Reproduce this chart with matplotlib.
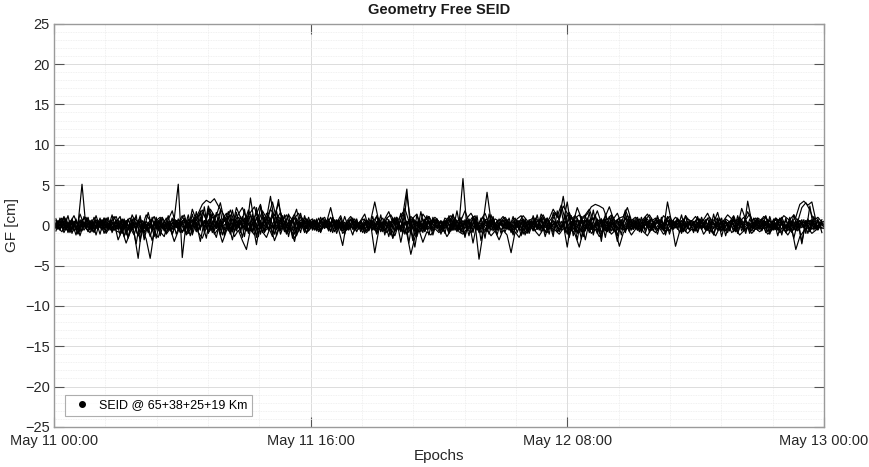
import numpy as np
import pandas as pd
import matplotlib
matplotlib.use("Agg")
import matplotlib.pyplot as plt
import matplotlib.dates as mdates
from matplotlib.lines import Line2D
from matplotlib.ticker import MultipleLocator, FixedLocator

plt.rcParams['font.family'] = ['Liberation Sans', 'DejaVu Sans']

# GF SEID residuals [cm], one value every 15 min from May 11 00:00 to May 13 00:00
start = pd.Timestamp("2023-05-11 00:00")
end = pd.Timestamp("2023-05-13 00:00")
step = pd.Timedelta("15min")

# arcs sampled on the full quarter hours
gf_a = [
    0.3, -0.5, 0.8, -0.2, 0.6, -0.7, 0.1, 5.1, -0.4, 0.5, -0.9, 0.2, 0.7, -0.3, 0.4, -0.6,
    0.2, -0.8, 0.5, 0.9, -0.1, -1.3, 0.6, -0.4, 0.3, 1.1, -0.6, 0.2, -0.9, 0.4, 0.8, 5.1,
    -4.0, 0.5, -0.3, 0.7, 1.2, 1.9, 0.6, -0.5, 0.9, 1.4, -0.2, 0.3, -1.1, 0.6, 1.0, -0.3,
    0.4, 1.2, -0.6, 0.8, -0.2, 1.5, 0.7, -0.4, 1.1, 0.3, -0.8, 0.5, 0.9, -0.5, 0.2, 0.6,
    -0.3, 0.7, -0.6, 0.4, 0.1, 1.0, -0.2, 0.5, -0.7, 0.3, 0.8, -0.4, 0.2, -0.5, 0.6, 0.1,
    -0.6, 0.4, 0.9, -0.3, 0.5, -0.8, 0.2, 1.3, 4.5, -0.9, 0.6, -0.2, 0.8, -0.5, 0.3, 0.7,
    -0.4, 0.2, 0.6, -0.7, 0.9, 0.1, 5.8, -0.6, 0.4, 1.2, -0.3, 0.5, 0.8, -0.6, 0.3, -0.2,
    0.7, -0.5, 0.4, 0.9, -0.3, 0.6, -0.8, 0.2, 0.5, -0.4, 1.0, -0.6, 0.3, 1.4, 0.8, 3.6,
    0.4, -0.7, 0.9, 1.3, 0.2, -0.5, 0.6, 1.1, -0.3, 0.4, -0.8, 0.7, 0.1, -0.6, 0.5, 1.2,
    -0.2, 0.6, -0.5, 0.3, 0.8, -0.4, 0.2, 0.7, -0.6, 1.1, 0.4, -0.3, 0.6, -0.7, 0.2, 0.5,
    -0.4, 0.8, 0.3, -0.6, 0.5, -0.2, 0.9, -0.5, 0.3, 0.6, -0.8, 0.4, 1.0, 0.2, -0.3, 0.7,
    -0.5, 0.3, 0.6, -0.4, 0.9, -0.2, 0.5, -0.7, 0.4, 0.1, 0.6, -0.3, 0.8, -0.5, 0.2, 0.4,
    -0.2,
]
gf_b = [
    -0.4, 0.6, -0.2, 0.9, -0.7, 0.3, -1.0, 0.5, 0.1, -0.6, 1.0, -0.3, 0.4, -0.8, 0.6, 0.2,
    -0.5, 0.8, -1.2, 0.3, -0.9, -4.1, 0.2, -0.6, 0.7, -1.4, 0.4, -0.2, 0.9, -0.7, 0.3, -0.5,
    0.6, -1.0, 0.4, 0.9, -0.6, 1.6, 0.8, 2.0, 1.2, -0.4, 0.7, 1.5, -0.8, 0.5, -0.3, 1.1,
    -0.7, 3.4, 0.2, 1.3, -0.9, 0.8, 3.6, 0.4, -0.5, 1.0, -0.2, 0.6, -1.1, 0.3, 0.9, -0.4,
    0.5, -0.6, 0.2, 0.8, -0.3, 0.4, -0.8, 0.6, 0.1, -0.5, 0.7, -0.2, 0.3, -0.9, 0.5, 0.2,
    -0.3, 0.6, -0.5, 0.9, 0.2, -0.7, 0.4, -1.0, 3.8, 0.3, -0.6, 0.8, -0.4, 0.5, -0.2, 0.7,
    0.3, -0.8, 0.5, -0.3, 0.9, -0.6, 0.2, 0.7, -0.4, 0.6, -0.9, 0.3, 4.1, 0.5, -0.5, 0.8,
    -0.3, 0.4, -0.7, 0.2, 0.6, -1.1, 0.5, -0.4, 0.8, -0.6, 0.3, 0.9, -0.2, 0.5, -0.8, 0.4,
    2.9, -0.4, 0.6, -0.9, 0.3, 0.8, -0.5, 0.2, 0.7, -0.3, 0.5, -0.7, 0.4, 0.9, -0.6, 0.2,
    0.5, -0.4, 0.8, -0.2, 0.3, -0.6, 0.7, 0.1, -0.5, 2.9, 0.4, -0.3, 0.6, -0.8, 0.5, 0.2,
    -0.6, 0.3, 0.7, -0.4, 0.5, -0.2, 0.8, -0.5, 0.3, 0.6, -0.3, 0.9, -0.7, 3.0, 0.4, -0.5,
    0.6, -0.2, 0.4, -0.6, 0.3, 0.8, -0.4, 0.2, 0.5, -0.7, 0.6, -0.3, 0.4, 0.7, -0.5, 0.3,
    0.1,
]
gf_c = [
    0.5, -0.3, -0.8, 0.4, -0.6, 0.2, -1.1, 0.7, -0.4, -0.9, 0.3, -0.5, 0.6, -1.0, -0.2, 0.4,
    -1.8, -0.6, -2.2, -0.9, 0.3, -1.3, -0.5, -1.7, -4.1, -0.8, -1.5, 0.2, -1.1, -0.4, -2.0, -0.7,
    0.3, -1.2, -0.5, 0.4, -0.9, -1.6, -0.3, 0.6, -1.1, -0.4, -2.1, -0.7, 0.2, -1.4, -0.6, -1.9,
    -3.0, -0.5, -1.2, 0.3, -0.8, -1.5, -0.2, -1.9, -0.6, 0.4, -1.1, -0.3, -1.6, -0.7, 0.2, -0.9,
    -0.4, 0.3, -0.8, -0.2, 0.5, -0.6, -0.3, 0.4, -1.0, -0.5, 0.2, -0.7, 0.3, -0.4, -0.9, 0.1,
    -3.4, -0.6, 0.3, -0.9, -0.4, -1.3, 0.2, -0.7, -1.0, -3.6, -1.5, -0.5, -2.1, -0.8, -1.2, -0.4,
    -0.9, -0.3, -1.4, -0.6, 0.2, -0.8, -1.1, -0.4, -0.9, 0.3, -4.2, -1.0, -0.5, -1.3, -0.7, -1.8,
    -0.6, -1.2, -3.4, -0.8, -1.5, -0.4, -1.0, 0.2, -0.7, -1.3, -0.5, -0.9, 0.3, -0.6, -1.1, -0.4,
    -0.8, -0.3, -1.2, -2.7, -0.6, 0.2, -1.0, -0.5, -1.4, -0.7, -0.2, -1.1, -0.6, -2.6, -0.9, -0.3,
    -1.2, -0.5, 0.2, -0.8, -1.3, -0.4, -0.9, -0.3, -1.1, -0.6, 0.3, -2.6, -0.8, -0.4, -1.0, -0.5,
    -0.7, 0.2, -1.1, -0.4, -0.8, -1.3, -0.3, -0.6, 0.3, -0.9, -0.5, -1.2, -0.7, -0.2, -1.0, -0.4,
    -0.8, -0.3, -1.1, -0.6, 0.2, -0.9, -0.5, -1.2, -0.4, -3.0, -1.4, -0.7, -0.3, -1.0, -0.6, -0.2,
    -0.4,
]
gf_d = [
    -0.2, 0.4, 0.9, -0.5, 0.3, 1.2, -0.1, 0.6, 1.0, -0.4, 0.5, 0.2, -0.6, 0.8, 0.3, 1.1,
    -0.3, 0.7, 0.2, -0.5, 0.9, 0.4, -0.2, 1.3, 0.6, -0.7, 0.5, 1.0, 0.1, -0.4, 0.8, 0.3,
    1.2, -0.3, 0.7, 0.4, 1.5, 2.6, 3.1, 2.8, 3.3, 2.4, 1.6, 0.7, 1.9, 0.3, 1.4, 2.2,
    0.8, 1.6, 2.3, 0.5, 1.8, 0.9, 2.0, 1.2, 2.7, 0.6, 1.3, -0.2, 0.9, 1.5, 0.4, 0.8,
    0.2, 0.6, -0.3, 0.9, 0.4, 2.2, 0.1, 0.7, -0.4, 0.5, 1.1, 0.3, -0.2, 0.8, 0.4, 0.6,
    2.9, 0.5, -0.2, 0.9, 1.3, 0.4, 0.8, 1.6, 0.2, 1.1, 0.6, -0.3, 1.4, 0.7, 0.3, 1.0,
    0.5, -0.1, 0.8, 1.2, 0.3, 0.7, -0.4, 0.9, 1.5, 0.6, 0.2, 1.0, 0.4, -0.2, 0.8, 0.5,
    1.1, 0.3, -0.3, 0.7, 0.4, 1.2, 0.6, -0.2, 0.9, 0.5, 1.3, 0.2, 0.8, 1.6, 0.7, 2.4,
    1.5, 0.8, 1.2, 0.4, 0.9, 1.4, 2.3, 2.6, 2.4, 2.1, 0.7, 1.3, 0.5, 0.9, 1.1, 2.2,
    0.6, 1.0, 0.3, 0.8, 1.4, 0.5, 0.9, 0.2, 1.2, 0.7, 0.4, 1.0, 0.6, -0.1, 0.8, 0.5,
    1.1, 0.3, 0.7, 1.5, 0.4, 0.9, 0.2, 0.6, 1.3, 0.8, 0.5, 1.0, 0.3, 1.7, 0.6, 0.9,
    0.4, 1.1, 0.7, 0.3, 0.9, 0.5, 1.2, 0.8, 0.4, 1.0, 2.6, 3.0, 2.5, 2.9, 0.6, 0.3,
    0.5,
]
gf_e = [
    0.1, -0.3, 0.5, -0.6, 0.2, 0.4, -0.5, 0.3, -0.2, 0.6, -0.4, 0.1, 0.5, -0.3, 0.2, -0.6,
    0.4, -0.2, 0.6, -0.5, 0.3, 0.1, -0.7, 0.5, -0.3, 0.2, 0.6, -0.4, 0.3, -0.1, 0.5, -0.5,
    0.2, 0.6, -0.3, 0.4, -0.6, 0.1, 0.5, -0.2, 0.7, -0.4, 0.3, 0.8, -0.5, 0.2, 0.6, -0.3,
    0.4, -0.2, 0.7, -0.5, 0.3, 0.9, -0.4, 0.6, 3.2, -0.3, 0.5, -0.6, -2.0, 0.4, -0.2, 0.6,
    -0.3, 0.5, 0.2, -0.4, 0.6, -0.2, 0.3, -0.5, -2.5, 0.4, -0.3, 0.5, 0.1, -0.4, 0.6, -0.2,
    0.3, -0.5, 0.4, 0.2, -0.3, 0.6, -0.4, 0.1, 0.5, -0.2, -2.7, 0.4, -0.5, 0.3, 0.6, -0.3,
    0.2, -0.4, 0.5, -0.1, 0.3, -0.5, 0.6, -0.3, 0.2, 0.4, -0.6, 0.3, -0.2, 0.5, -0.4, 0.1,
    0.6, -0.3, 0.2, -0.5, 0.4, 0.1, -0.6, 0.5, -0.2, 0.3, -0.4, 0.6, -0.1, 0.4, -0.5, 0.2,
    -2.7, 0.5, -0.3, 0.2, 0.6, -0.4, 0.3, -0.2, 0.5, -0.5, 0.1, 0.4, -0.3, 0.6, -0.2, 0.3,
    -0.5, 0.4, 0.2, -0.3, 0.5, -0.6, 0.1, 0.4, -0.2, 0.6, -0.4, 0.3, 0.2, -0.5, 0.4, -0.1,
    0.5, -0.3, 0.2, -0.6, 0.4, 0.1, -0.4, 0.6, -0.2, 0.3, -0.5, 0.5, -0.1, 0.4, -0.3, 0.2,
    -0.4, 0.6, -0.2, 0.3, -0.5, 0.4, 0.1, -0.3, 0.5, -0.6, 0.2, 0.4, -0.2, 0.5, -0.3, 0.1,
    0.3,
]
gf_f = [
    -0.6, 0.2, -0.1, 0.7, -0.9, 0.5, 0.3, -0.7, 0.8, -0.2, -0.8, 0.6, -0.4, 0.9, -0.6, 0.1,
    0.7, -1.0, 0.4, -0.3, -1.2, 0.6, -0.8, 0.2, -1.4, 0.5, -0.6, 0.9, -1.0, 0.3, -0.5, 0.8,
    -0.9, 0.4, -1.3, 1.0, -0.5, 0.3, -1.6, 1.4, -0.7, 0.9, -1.2, 0.5, 1.3, -0.8, 0.6, -1.5,
    1.1, -0.6, 0.8, -1.4, 1.6, -0.3, 0.9, -1.1, 0.4, 1.2, -0.9, 0.5, 1.4, -0.6, 0.7, -1.0,
    0.6, -0.5, 0.9, -0.2, 0.4, -0.8, 0.7, -0.3, 0.5, -0.6, 0.2, 0.8, -0.5, 0.3, -0.7, 0.6,
    -0.4, 0.9, -0.8, 0.5, -1.2, 1.0, -0.6, 0.4, -1.1, 0.8, -1.3, 0.6, -0.9, 1.2, -0.5, 0.3,
    -0.7, 0.5, -0.2, 0.8, -0.6, 0.3, -0.9, 0.6, -0.4, 0.9, -0.5, 0.2, -0.8, 1.3, -0.7, 0.4,
    -0.3, 0.7, -0.9, 0.4, -0.5, 0.8, -0.2, 0.6, -0.7, 0.3, -0.6, 0.9, -0.4, 0.5, -0.8, 0.6,
    -1.1, 1.2, -0.8, 0.6, -1.4, 0.9, -0.5, 1.3, -1.0, 0.7, -0.6, 1.1, -0.9, 0.4, -0.3, 0.8,
    -0.6, 0.4, -0.8, 0.7, -0.3, 0.9, -0.5, 0.3, -0.7, 0.6, -0.2, 0.5, -0.9, 0.8, -0.4, 0.6,
    -0.5, 0.7, -0.3, 0.9, -0.8, 0.4, -0.6, 0.3, -0.9, 0.6, -0.4, 0.8, -0.5, 0.2, -0.7, 0.5,
    -0.3, 0.6, -0.8, 0.4, -0.5, 0.9, -0.6, 0.3, -0.9, 0.5, -0.4, 0.7, -1.0, 0.6, -0.3, 0.4,
    -0.2,
]

# arcs sampled at quarter past + 7.5 min
gf_g = [
    0.8, -0.6, 1.1, -0.9, 0.4, -1.2, 0.7, -0.3, 1.0, -0.8, 0.5, -1.1, 0.9, -0.4, 1.3, -0.7,
    -0.9, 0.6, -1.5, 0.8, -0.5, 1.2, -1.8, 0.4, -0.7, 1.0, -1.3, 0.6, -0.4, 0.9, -1.1, 0.3,
    0.7, -1.0, 1.4, -0.6, 1.8, -0.9, 2.1, -0.5, 1.6, -1.2, 0.8, -0.7, 1.9, -0.4, 1.1, -1.4,
    1.5, -0.8, 2.2, -1.1, 1.0, -0.6, 1.7, -1.3, 0.9, -0.5, 1.4, -1.6, 0.7, -0.9, 1.2, -0.4,
    0.6, -0.7, 1.0, -0.3, 0.8, -0.9, 0.5, -0.6, 1.1, -0.4, 0.7, -0.8, 0.4, -1.0, 0.9, -0.5,
    1.2, -0.8, 0.6, -1.4, 0.9, -0.5, 1.5, -1.1, 0.7, -1.9, 1.3, -0.6, 0.8, -1.2, 1.0, -0.4,
    0.5, -1.0, 1.2, -0.6, 1.8, -0.9, 0.7, -1.3, 1.1, -0.5, 0.9, -1.6, 1.4, -0.7, 0.6, -1.0,
    0.8, -0.5, 1.1, -0.9, 0.4, -1.2, 0.7, -0.6, 1.3, -0.8, 0.5, -1.1, 1.6, -0.4, 2.0, -0.9,
    1.4, -1.3, 0.9, -1.7, 1.2, -0.6, 1.9, -1.0, 0.8, -1.5, 1.1, -0.7, 0.6, -1.2, 1.5, -0.8,
    0.7, -0.6, 1.0, -0.9, 0.5, -0.7, 1.2, -0.4, 0.8, -1.1, 0.6, -0.5, 1.3, -0.8, 0.4, -0.9,
    1.1, -0.5, 0.7, -1.0, 1.4, -0.6, 0.9, -1.3, 0.5, -0.8, 1.2, -0.7, 0.6, -1.0, 0.9, -0.4,
    0.8, -0.9, 1.1, -0.5, 0.6, -1.2, 0.9, -0.7, 1.3, -0.4, 0.7, -1.0, 2.4, -0.6, 0.8, -0.9,
]
gf_h = [
    -0.7, 0.9, -0.4, 1.2, -1.0, 0.5, -0.8, 1.1, -0.3, 0.7, -1.2, 0.6, -0.5, 1.0, -0.9, 0.4,
    1.1, -1.4, 0.7, -0.6, 1.3, -2.0, 0.5, -0.9, 1.0, -1.6, 0.8, -0.4, 1.2, -1.1, 0.6, -0.8,
    -0.5, 1.3, -0.9, 1.7, -0.6, 2.3, -1.0, 1.5, -0.4, 1.9, -1.3, 1.1, -0.7, 1.6, -0.9, 2.0,
    -0.8, 1.4, -1.5, 2.5, -0.7, 1.2, -1.1, 1.8, -0.6, 1.3, -1.4, 0.9, -0.8, 1.5, -0.5, 1.0,
    -0.6, 0.8, -0.9, 0.5, -0.7, 1.0, -0.4, 0.9, -1.1, 0.6, -0.5, 0.8, -0.8, 0.4, -0.6, 1.1,
    -0.9, 1.3, -1.2, 0.7, -1.6, 1.0, -0.6, 1.4, -2.2, 0.9, -1.0, 1.7, -0.7, 1.1, -0.5, 0.8,
    -1.1, 0.6, -0.8, 1.4, -0.6, 1.0, -1.5, 0.8, -0.9, 1.2, -1.9, 0.7, -0.5, 1.1, -1.2, 0.6,
    -0.4, 0.9, -1.0, 0.6, -1.3, 0.8, -0.7, 1.2, -0.5, 1.0, -0.9, 0.5, -1.4, 1.8, -0.6, 1.3,
    -1.5, 0.9, -1.8, 1.1, -0.7, 1.6, -1.2, 0.8, -2.0, 1.4, -0.6, 1.0, -1.3, 0.7, -0.9, 1.2,
    -0.5, 0.8, -0.7, 1.1, -0.9, 0.5, -0.6, 1.0, -1.2, 0.7, -0.4, 0.9, -0.8, 1.2, -0.6, 0.5,
    -0.8, 1.0, -0.5, 0.7, -1.1, 0.9, -1.4, 0.6, -0.7, 1.1, -0.9, 0.5, -1.0, 0.8, -0.4, 0.9,
    -0.6, 1.2, -0.8, 0.7, -1.3, 0.5, -0.9, 1.0, -0.5, 0.8, -2.1, 0.6, -0.7, 1.1, -0.5, 0.7,
]
gf_i = [
    0.4, -0.5, 0.2, -0.7, 0.6, -0.3, 0.5, -0.6, 0.3, -0.4, 0.7, -0.2, 0.5, -0.6, 0.3, -0.5,
    0.6, -0.3, 0.8, -0.5, 0.2, -0.8, 0.4, -0.6, 0.7, -0.3, 0.5, -0.7, 0.3, -0.5, 0.6, -0.4,
    0.9, -0.5, 0.6, -0.8, 1.0, -0.4, 0.7, -0.9, 0.5, -0.6, 1.1, -0.3, 0.8, -0.7, 0.6, -0.5,
    0.7, -0.9, 1.0, -0.4, 0.8, -0.6, 1.2, -0.5, 0.6, -0.8, 0.4, -0.6, 0.9, -0.3, 0.5, -0.7,
    0.3, -0.5, 0.6, -0.4, 0.5, -0.3, 0.7, -0.5, 0.4, -0.6, 0.3, -0.4, 0.6, -0.5, 0.2, -0.6,
    0.5, -0.7, 0.4, -0.6, 0.8, -0.5, 0.6, -0.9, 0.7, -0.4, 0.5, -0.8, 0.6, -0.5, 0.7, -0.3,
    0.6, -0.4, 0.8, -0.6, 0.5, -0.7, 0.4, -0.5, 0.9, -0.6, 0.3, -0.7, 0.6, -0.4, 0.5, -0.6,
    0.4, -0.6, 0.5, -0.3, 0.7, -0.5, 0.4, -0.7, 0.6, -0.4, 0.8, -0.5, 0.6, -0.8, 0.5, -0.6,
    0.9, -0.5, 0.7, -0.8, 0.6, -0.9, 0.5, -0.6, 0.8, -0.7, 0.4, -0.6, 0.7, -0.5, 0.9, -0.4,
    0.5, -0.6, 0.4, -0.5, 0.7, -0.3, 0.6, -0.5, 0.4, -0.7, 0.5, -0.4, 0.6, -0.3, 0.5, -0.6,
    0.4, -0.5, 0.6, -0.4, 0.3, -0.6, 0.5, -0.7, 0.4, -0.5, 0.6, -0.3, 0.7, -0.5, 0.4, -0.6,
    0.5, -0.4, 0.7, -0.6, 0.3, -0.5, 0.6, -0.4, 0.5, -0.7, 0.4, -0.5, 0.6, -0.3, 0.5, -0.4,
]
gf_j = [
    -0.3, 0.6, -0.9, 0.2, -0.6, 0.8, -1.3, 0.4, -0.8, 0.5, -0.4, 0.9, -1.0, 0.3, -0.7, 0.6,
    -1.2, 0.5, -1.6, 0.3, -2.3, 0.7, -1.0, -0.2, -1.9, 0.4, -0.8, -1.4, 0.5, -1.1, 0.2, -0.9,
    -0.6, 0.8, -1.2, 0.4, -2.0, 0.6, -0.9, -0.3, -1.5, 0.7, -1.1, 0.3, -1.8, 0.5, -0.7, 0.9,
    -1.0, 0.4, -2.4, 0.6, -0.8, -0.2, -1.4, 0.9, -1.1, 0.3, -0.6, 0.7, -1.3, 0.4, -0.9, 0.5,
    -0.4, 0.6, -0.8, 0.3, -0.5, 0.7, -1.0, 0.4, -0.6, 0.2, -1.2, 0.5, -0.4, 0.8, -0.7, 0.3,
    -1.1, 0.5, -0.7, 0.3, -1.6, 0.6, -2.1, 0.4, -0.9, 0.8, -1.4, 0.2, -0.8, 0.5, -1.2, 0.6,
    -0.6, 0.3, -1.0, 0.7, -0.5, 0.4, -1.3, 0.6, -2.2, 0.3, -0.9, 0.5, -1.1, 0.7, -0.6, 0.4,
    -0.8, 0.5, -1.2, 0.3, -0.7, 0.6, -1.0, 0.4, -0.5, 0.8, -1.4, 0.3, -0.9, 0.6, -0.4, 0.5,
    -1.3, 0.4, -1.0, 0.7, -1.8, 0.5, -0.6, 0.3, -1.5, 0.8, -0.9, 0.4, -2.0, 0.6, -0.7, 0.3,
    -0.5, 0.7, -0.9, 0.4, -0.6, 0.3, -1.1, 0.6, -0.8, 0.5, -0.4, 0.7, -1.0, 0.3, -0.6, 0.5,
    -0.9, 0.4, -0.6, 0.6, -1.2, 0.3, -0.7, 0.5, -0.5, 0.8, -1.0, 0.4, -0.6, 0.3, -0.8, 0.6,
    -0.7, 0.5, -1.1, 0.3, -0.6, 0.7, -0.9, 0.4, -1.6, 0.5, -2.3, 0.6, -0.8, 0.4, -0.6, 0.3,
]
gf_k = [
    0.6, -0.4, 1.0, -0.2, 0.8, -0.6, 1.4, 0.1, 0.7, -0.5, 1.2, -0.3, 0.9, -0.4, 0.5, 1.1,
    -0.2, 0.8, -0.5, 1.3, 0.2, 0.9, -0.4, 1.6, -0.3, 0.6, 1.0, -0.5, 0.7, 1.8, -0.2, 0.5,
    1.3, -0.4, 2.0, 0.6, 1.5, -0.3, 2.4, 0.9, 1.2, 2.8, 0.5, 1.7, -0.2, 2.2, 1.0, 0.4,
    1.9, 0.7, 1.4, 2.6, 0.3, 1.1, 2.9, 0.8, 1.6, 0.2, 1.3, 0.6, 2.0, -0.3, 0.9, 0.5,
    0.8, -0.3, 0.6, 1.0, -0.2, 0.7, 0.3, 1.2, -0.4, 0.5, 0.9, -0.1, 0.6, 1.4, -0.3, 0.4,
    1.1, -0.2, 0.8, 1.7, 0.3, 1.0, -0.4, 2.1, 0.5, 0.9, 1.4, -0.2, 0.7, 1.1, 0.3, 0.8,
    -0.3, 0.9, 0.5, 1.3, -0.2, 0.6, 1.8, 0.4, 1.1, -0.3, 0.7, 1.5, 0.2, 0.9, -0.4, 0.6,
    1.0, 0.3, -0.2, 0.8, 1.2, -0.1, 0.6, 0.9, -0.3, 1.4, 0.5, 0.8, 2.0, 1.1, 2.5, 0.7,
    1.6, 0.4, 2.2, 0.9, 1.3, 2.0, 0.6, 1.8, 0.3, 1.1, 2.3, 0.8, 1.5, 0.2, 1.9, 0.7,
    0.5, 1.0, -0.2, 0.7, 1.3, 0.4, 0.9, -0.3, 0.6, 1.1, 0.2, 0.8, -0.4, 1.2, 0.5, 0.3,
    0.9, -0.2, 0.6, 1.0, 0.3, 1.6, -0.3, 0.8, 0.4, 1.2, -0.1, 2.1, 0.7, 1.4, 0.2, 0.9,
    0.6, 1.1, -0.3, 0.8, 0.4, 1.0, -0.2, 0.7, 1.3, 0.5, 2.2, 2.8, 1.9, 0.6, 1.0, 0.4,
]
gf_l = [
    -0.2, 0.5, -0.6, 0.3, -0.4, 0.6, -0.3, 0.2, -0.7, 0.4, -0.2, 0.5, -0.5, 0.3, -0.4, 0.7,
    -0.5, 0.2, -0.6, 0.4, -0.3, 0.6, -0.8, 0.3, -0.5, 0.5, -0.4, 0.2, -0.6, 0.4, -0.3, 0.5,
    -0.7, 0.4, -0.5, 0.8, -0.3, 0.6, -0.9, 0.5, -0.4, 0.7, -0.6, 0.3, -0.8, 0.6, -0.5, 0.4,
    -0.6, 0.8, -0.4, 0.5, -0.9, 0.7, -0.3, 0.6, -0.7, 0.4, -0.5, 0.8, -0.4, 0.3, -0.6, 0.5,
    -0.4, 0.3, -0.5, 0.6, -0.2, 0.4, -0.6, 0.3, -0.3, 0.5, -0.4, 0.2, -0.5, 0.4, -0.3, 0.6,
    -0.5, 0.4, -0.7, 0.5, -0.3, 0.6, -0.8, 0.4, -0.5, 0.7, -0.6, 0.3, -0.4, 0.5, -0.7, 0.4,
    -0.3, 0.6, -0.5, 0.4, -0.8, 0.5, -0.4, 0.7, -0.6, 0.3, -0.5, 0.6, -0.3, 0.4, -0.6, 0.5,
    -0.4, 0.3, -0.6, 0.5, -0.3, 0.4, -0.5, 0.6, -0.4, 0.7, -0.3, 0.5, -0.6, 0.4, -0.5, 0.6,
    -0.6, 0.5, -0.8, 0.4, -0.5, 0.7, -0.4, 0.6, -0.9, 0.5, -0.3, 0.8, -0.6, 0.4, -0.5, 0.7,
    -0.4, 0.3, -0.5, 0.6, -0.3, 0.4, -0.6, 0.5, -0.4, 0.3, -0.5, 0.6, -0.2, 0.4, -0.5, 0.3,
    -0.3, 0.5, -0.6, 0.4, -0.4, 0.3, -0.7, 0.5, -0.3, 0.6, -0.5, 0.4, -0.6, 0.3, -0.4, 0.5,
    -0.5, 0.4, -0.3, 0.6, -0.5, 0.3, -0.4, 0.5, -0.6, 0.4, -0.3, 0.5, -0.4, 0.6, -0.3, 0.4,
]

on_quarter = [gf_a, gf_b, gf_c, gf_d, gf_e, gf_f]
off_quarter = [gf_g, gf_h, gf_i, gf_j, gf_k, gf_l]

legend_label = "SEID @ 65+38+25+19 Km"
major_ticks = pd.date_range(start, end, freq="16h")
minor_ticks = pd.date_range(start, end, freq="192min")

fig = plt.figure(figsize=(8.7, 4.67), dpi=100)
ax = fig.add_axes([0.062, 0.086, 0.885, 0.863])

for vals in on_quarter:
    t = pd.date_range(start, periods=len(vals), freq=step)
    ax.plot(t, vals, color="black", lw=0.85)
for vals in off_quarter:
    t = pd.date_range(start + step / 2, periods=len(vals), freq=step)
    ax.plot(t, vals, color="black", lw=0.85)

ax.set_xlim(start, end)
ax.set_ylim(-25, 25)
ax.yaxis.set_major_locator(MultipleLocator(5))
ax.yaxis.set_minor_locator(MultipleLocator(1))
ax.xaxis.set_major_locator(FixedLocator(mdates.date2num(major_ticks)))
ax.xaxis.set_minor_locator(FixedLocator(mdates.date2num(minor_ticks)))
ax.xaxis.set_major_formatter(mdates.DateFormatter("%b %d %H:%M"))

ax.grid(which="major", color="#dcdcdc", lw=0.7)
ax.grid(which="minor", color="#ececec", lw=0.6, ls=(0, (1, 1)))
ax.set_axisbelow(True)

ax.tick_params(which="major", direction="in", length=7, width=0.8,
               top=True, right=True, color="#555555",
               labelsize=10.5, labelcolor="#262626", pad=3)
ax.tick_params(axis="x", which="major", pad=5)
ax.tick_params(which="minor", length=0)
for sp in ax.spines.values():
    sp.set_color("#9a9a9a")
    sp.set_linewidth(1.0)

ax.set_title("Geometry Free SEID", fontsize=10.5, fontweight="bold", pad=7, color="#1a1a1a")
ax.set_xlabel("Epochs", fontsize=11, color="#262626", labelpad=1)
ax.set_ylabel("GF [cm]", fontsize=11, color="#262626", labelpad=4)

handle = Line2D([], [], color="black", marker="o", markersize=4, linestyle="none")
leg = ax.legend([handle], [legend_label], loc="lower left", fontsize=9,
                frameon=True, fancybox=False, borderpad=0.35, handletextpad=0.4,
                bbox_to_anchor=(0.006, 0.012))
leg.get_frame().set_edgecolor("#9a9a9a")
leg.get_frame().set_linewidth(0.8)

fig.savefig("out.png", dpi=100)
